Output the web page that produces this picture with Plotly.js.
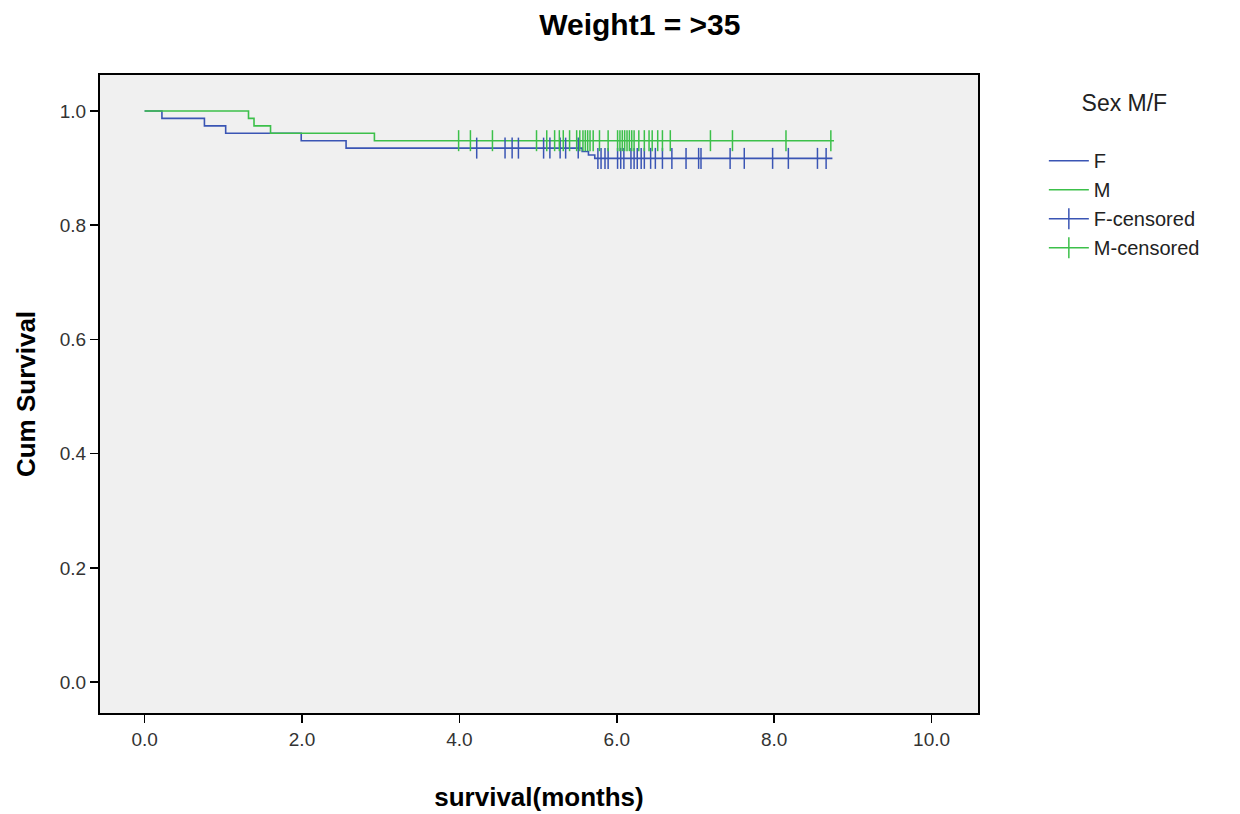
<!DOCTYPE html>
<html>
<head>
<meta charset="utf-8">
<script src="https://cdn.plot.ly/plotly-3.0.1.min.js"></script>
<style>html,body{margin:0;padding:0;background:#fff;}#chart{width:1240px;height:814px;}</style>
</head>
<body>
<div id="chart"></div>
<script>
// Kaplan-Meier step data
const fTimes = [0, 0.22, 0.76, 1.03, 1.99, 2.56, 5.56, 5.64, 5.72, 8.74];
const fSurv  = [1.0, 0.987, 0.974, 0.961, 0.948, 0.935, 0.929, 0.923, 0.917, 0.917];
const mTimes = [0, 1.32, 1.39, 1.60, 2.92, 8.76];
const mSurv  = [1.0, 0.987, 0.974, 0.961, 0.948, 0.948];

// censored observation times
const fCensored = [4.22, 4.58, 4.67, 4.75, 5.07, 5.15, 5.28, 5.35, 5.51,
  5.76, 5.80, 5.85, 5.89, 6.01, 6.05, 6.09, 6.18, 6.22, 6.26, 6.31, 6.35,
  6.43, 6.49, 6.58, 6.70, 6.88, 7.04, 7.07, 7.44, 7.62, 7.98, 8.18, 8.55, 8.66];
const mCensored = [3.99, 4.14, 4.42, 4.98, 5.11, 5.21, 5.27, 5.32, 5.40, 5.49,
  5.53, 5.57, 5.60, 5.63, 5.66, 5.70, 5.78, 5.89, 6.01, 6.04, 6.07, 6.10, 6.13,
  6.16, 6.19, 6.22, 6.28, 6.35, 6.41, 6.45, 6.52, 6.58, 6.68, 7.19, 7.47, 8.15, 8.72];

const xTicks = [0, 2, 4, 6, 8, 10];
const xTickLabels = ['0.0', '2.0', '4.0', '6.0', '8.0', '10.0'];
const yTicks = [0, 0.2, 0.4, 0.6, 0.8, 1.0];
const yTickLabels = ['0.0', '0.2', '0.4', '0.6', '0.8', '1.0'];

const blue = '#3a55b4';
const green = '#3cc04a';

function survAt(times, surv, t) {
  let s = surv[0];
  for (let i = 0; i < times.length; i++) { if (times[i] <= t) s = surv[i]; }
  return s;
}

const censMarker = c => ({symbol: 'line-ns', size: 15, line: {color: c, width: 1.5}});

const traces = [
  {x: fTimes, y: fSurv, mode: 'lines', line: {shape: 'hv', color: blue, width: 1.6}, name: 'F'},
  {x: mTimes, y: mSurv, mode: 'lines', line: {shape: 'hv', color: green, width: 1.6}, name: 'M'},
  {x: fCensored, y: fCensored.map(t => survAt(fTimes, fSurv, t)), mode: 'markers',
   marker: censMarker(blue), name: 'F-censored', showlegend: false},
  {x: mCensored, y: mCensored.map(t => survAt(mTimes, mSurv, t)), mode: 'markers',
   marker: censMarker(green), name: 'M-censored', showlegend: false},
  {x: [null], y: [null], mode: 'lines+markers', line: {color: blue, width: 1.6},
   marker: censMarker(blue), name: 'F-censored'},
  {x: [null], y: [null], mode: 'lines+markers', line: {color: green, width: 1.6},
   marker: censMarker(green), name: 'M-censored'}
];

const layout = {
  width: 1240, height: 814,
  margin: {l: 100, r: 262, t: 75, b: 101},
  paper_bgcolor: '#ffffff',
  plot_bgcolor: '#f0f0f0',
  font: {family: '"Liberation Sans", Arial, sans-serif', color: '#222'},
  title: {text: '<b>Weight1 = >35</b>', x: 0.516, xanchor: 'center', y: 0.97, yanchor: 'middle',
          font: {family: '"Liberation Sans Narrow", "Liberation Sans", Arial, sans-serif', size: 30, color: '#000'}},
  xaxis: {
    range: [-0.567, 10.59], tickvals: xTicks, ticktext: xTickLabels,
    showgrid: false, zeroline: false, showline: true, linecolor: '#000', linewidth: 2, mirror: true,
    ticks: 'outside', ticklen: 8, tickwidth: 1.5, tickcolor: '#000',
    tickfont: {size: 19, color: '#333'},
    title: {text: '<b>survival(months)</b>', font: {size: 26, color: '#000'}, standoff: 39}
  },
  yaxis: {
    range: [-0.054, 1.063], tickvals: yTicks, ticktext: yTickLabels,
    showgrid: false, zeroline: false, showline: true, linecolor: '#000', linewidth: 2, mirror: true,
    ticks: 'outside', ticklen: 8, tickwidth: 1.5, tickcolor: '#000',
    tickfont: {size: 19, color: '#333'},
    title: {text: '<b>Cum Survival</b>', font: {size: 26, color: '#000'}, standoff: 17}
  },
  legend: {
    x: 1.075, y: 0.99, xanchor: 'left', yanchor: 'top',
    bgcolor: 'rgba(0,0,0,0)', font: {size: 20, color: '#222'},
    title: {text: 'Sex M/F<br> ', side: 'top center', font: {size: 23, color: '#222'}},
    tracegroupgap: 0, itemwidth: 40
  },
  showlegend: true
};

Plotly.newPlot('chart', traces, layout, {displayModeBar: false, staticPlot: true});
</script>
</body>
</html>
